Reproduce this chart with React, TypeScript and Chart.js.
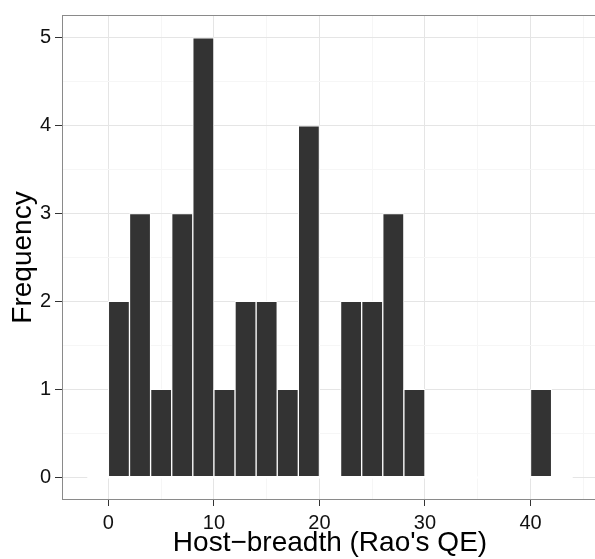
import React, { useEffect, useRef } from 'react';
import { Chart, registerables } from 'chart.js';

Chart.register(...registerables);

// Histogram bins (left edge, right edge) and counts
const binLeft = [-2, 0, 2, 4, 6, 8, 10, 12, 14, 16, 18, 20, 22, 24, 26, 28, 30, 32, 34, 36, 38, 40, 42];
const binRight = [0, 2, 4, 6, 8, 10, 12, 14, 16, 18, 20, 22, 24, 26, 28, 30, 32, 34, 36, 38, 40, 42, 44];
const counts = [0, 2, 3, 1, 3, 5, 1, 2, 2, 1, 4, 0, 2, 2, 3, 1, 0, 0, 0, 0, 0, 1, 0];

const xMajorTicks = [0, 10, 20, 30, 40];
const xMinorTicks = [5, 15, 25, 35, 45];
const yMajorTicks = [0, 1, 2, 3, 4, 5];
const yMinorTicks = [0.5, 1.5, 2.5, 3.5, 4.5];

const xLabel = 'Host\u2212breadth (Rao\'s QE)';
const yLabel = 'Frequency';

const FONT = '"Liberation Sans", Arial, Helvetica, sans-serif';

export default function App() {
  const ref = useRef<HTMLCanvasElement | null>(null);

  useEffect(() => {
    if (!ref.current) return;
    const data = binLeft.map((l, i) => ({ x: (l + binRight[i]) / 2, y: counts[i] }));
    const first = binLeft[0];
    const last = binRight[binRight.length - 1];
    const xTicks = [...xMajorTicks, ...xMinorTicks].sort((a, b) => a - b);
    const yTicks = [...yMajorTicks, ...yMinorTicks].sort((a, b) => a - b);

    const zeroLine = {
      id: 'zeroLine',
      beforeDatasetsDraw(chart: any) {
        const { ctx, scales } = chart;
        const y0 = Math.round(scales.y.getPixelForValue(0) - 0.5) + 0.5;
        ctx.save();
        ctx.strokeStyle = '#ffffff';
        ctx.lineWidth = 2;
        ctx.beginPath();
        ctx.moveTo(scales.x.getPixelForValue(first), y0);
        ctx.lineTo(scales.x.getPixelForValue(last), y0);
        ctx.stroke();
        ctx.restore();
      },
    };
    const panelBorder = {
      id: 'panelBorder',
      afterDatasetsDraw(chart: any) {
        const { ctx, chartArea } = chart;
        ctx.save();
        ctx.strokeStyle = '#8a8a8a';
        ctx.lineWidth = 1;
        ctx.strokeRect(
          Math.round(chartArea.left) - 0.5,
          Math.round(chartArea.top) - 0.5,
          Math.round(chartArea.right - chartArea.left) + 1,
          Math.round(chartArea.bottom - chartArea.top) + 1
        );
        ctx.restore();
      },
    };

    const chart = new Chart(ref.current, {
      type: 'bar',
      data: {
        datasets: [
          {
            data,
            backgroundColor: '#333333',
            borderColor: '#ffffff',
            borderWidth: 1,
            borderSkipped: false,
            barPercentage: 1,
            categoryPercentage: 1,
          },
        ],
      },
      plugins: [zeroLine, panelBorder],
      options: {
        animation: false,
        responsive: false,
        events: [],
        layout: { padding: { top: 15, right: 3, left: 0, bottom: 0 } },
        plugins: { legend: { display: false }, tooltip: { enabled: false } },
        scales: {
          x: {
            type: 'linear',
            min: -4.3,
            max: 46.3,
            offset: false,
            border: { display: false },
            afterBuildTicks: (s: any) => {
              s.ticks = xTicks.map((v) => ({ value: v }));
            },
            grid: {
              offset: false,
              color: (c: any) => (xMajorTicks.includes(c.tick?.value) ? '#e5e5e5' : '#f6f6f6'),
              lineWidth: 1,
              tickLength: 7,
              tickColor: (c: any) => (xMajorTicks.includes(c.tick?.value) ? '#333333' : 'rgba(0,0,0,0)'),
            },
            ticks: {
              autoSkip: false,
              maxRotation: 0,
              padding: 5,
              color: '#111111',
              font: { family: FONT, size: 20 },
              callback: (v: any) => (xMajorTicks.includes(v) ? String(v) : ''),
            },
            title: {
              display: true,
              text: xLabel,
              color: '#000000',
              font: { family: FONT, size: 28, lineHeight: 1 },
              padding: { top: 0, bottom: 2 },
            },
            afterFit: (s: any) => {
              s.height = 60;
            },
          },
          y: {
            type: 'linear',
            min: -0.25,
            max: 5.25,
            border: { display: false },
            afterBuildTicks: (s: any) => {
              s.ticks = yTicks.map((v) => ({ value: v }));
            },
            grid: {
              color: (c: any) => (yMajorTicks.includes(c.tick?.value) ? '#e5e5e5' : '#f6f6f6'),
              lineWidth: 1,
              tickLength: 8,
              tickColor: (c: any) => (yMajorTicks.includes(c.tick?.value) ? '#333333' : 'rgba(0,0,0,0)'),
            },
            ticks: {
              autoSkip: false,
              padding: 4,
              color: '#111111',
              font: { family: FONT, size: 20 },
              callback: (v: any) => (yMajorTicks.includes(v) ? String(v) : ''),
            },
            title: {
              display: true,
              text: yLabel,
              color: '#000000',
              font: { family: FONT, size: 28, lineHeight: 1 },
              padding: { top: 9, bottom: 0 },
            },
            afterFit: (s: any) => {
              s.width = 63;
            },
          },
        },
      },
    } as any);
    return () => chart.destroy();
  }, []);

  return (
    <div
      style={{
        position: 'fixed',
        left: 0,
        top: 0,
        width: 595,
        height: 559,
        overflow: 'hidden',
        background: '#ffffff',
      }}
    >
      <canvas ref={ref} width={600} height={559} style={{ display: 'block' }} />
    </div>
  );
}
